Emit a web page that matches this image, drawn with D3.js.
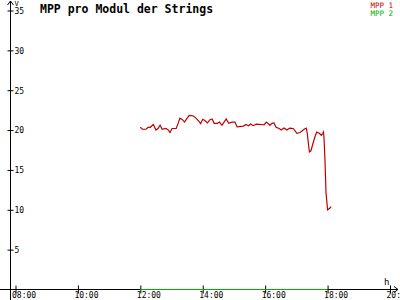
<!DOCTYPE html>
<html><head><meta charset="utf-8">
<script src="https://cdn.jsdelivr.net/npm/d3@7"></script>
<style>
html,body{margin:0;padding:0;background:#fff;}
svg{display:block;}
text{font-family:"DejaVu Sans Mono",monospace;}
</style></head>
<body><svg id="c" width="400" height="300"></svg>
<script>
const title = "MPP pro Modul der Strings";
const seriesNames = ["MPP 1", "MPP 2"];
const seriesColors = ["#c00000", "#00b000"];
const yTicks = [5, 10, 15, 20, 25, 30, 35];
const xTickLabels = ["08:00", "10:00", "12:00", "14:00", "16:00", "18:00", "20:00"];
const mpp1Times = ["12:00","12:04","12:11","12:15","12:19","12:25","12:30","12:34","12:38","12:42","12:49","12:54","12:57","13:01","13:09","13:13","13:16","13:21","13:25","13:29","13:34","13:41","13:47","13:53","13:56","14:00","14:04","14:09","14:14","14:18","14:22","14:28","14:32","14:37","14:45","14:50","14:56","15:02","15:06","15:18","15:23","15:28","15:32","15:37","15:43","15:53","15:58","16:02","16:06","16:09","16:13","16:17","16:21","16:27","16:31","16:36","16:42","16:47","16:54","17:01","17:07","17:15","17:19","17:21","17:23","17:25","17:28","17:32","17:35","17:39","17:44","17:48","17:51","17:52","17:53","17:55","17:57","18:00","18:04","18:07"];
const mpp1Values = [20.35,20.1,20.1,20.35,20.35,20.7,20.0,20.2,20.6,20.1,20.2,20.0,19.7,20.2,20.2,20.9,21.5,21.3,21.0,21.4,21.85,21.8,21.5,21.05,20.8,21.35,21.2,20.9,21.3,21.4,20.85,20.85,21.0,20.6,21.4,20.85,21.0,21.0,20.4,20.5,20.7,20.55,20.75,20.55,20.75,20.7,20.65,21.0,20.8,20.6,20.85,20.9,20.35,20.2,20.0,20.25,20.0,20.25,20.2,19.6,19.7,20.1,20.25,19.6,18.35,17.25,17.4,18.35,19.0,19.75,19.6,19.35,19.6,19.75,19.2,16.25,12.1,10.0,10.2,10.4];
const mpp2Times = ["12:00","18:00"];
const mpp2Values = [0, 0];

const parse = s => { const [h,m] = s.split(":").map(Number); return new Date(2020,0,1,h,m); };
const svg = d3.select("#c");
const x = d3.scaleTime().domain([parse("08:00"), parse("20:00")]).range([15.5, 390]);
const y = d3.scaleLinear().domain([0, 35]).range([289.5, 10.5]);
const ax0 = 10.5;

// axes lines
svg.append("line").attr("x1", ax0).attr("x2", ax0).attr("y1", 1).attr("y2", 300).attr("stroke", "#000");
svg.append("line").attr("x1", 0).attr("x2", 398).attr("y1", y(0)).attr("y2", y(0)).attr("stroke", "#000");
// arrows
svg.append("path").attr("d", `M${ax0-3},5 L${ax0},1 L${ax0+3},5`).attr("fill","none").attr("stroke","#000");
svg.append("path").attr("d", `M394,${y(0)-3} L398,${y(0)} L394,${y(0)+3}`).attr("fill","none").attr("stroke","#000");

// y ticks
const yAxis = d3.axisLeft(y).tickValues(yTicks).tickSize(0).tickFormat(d3.format("d"));
const gy = svg.append("g").attr("transform", `translate(${ax0},0)`).call(yAxis);
gy.select(".domain").remove();
gy.selectAll(".tick line").attr("x1", -3).attr("x2", 3).attr("stroke", "#000");
gy.selectAll(".tick text").attr("x", 4).attr("text-anchor", "start").attr("dy", "0.35em")
  .attr("font-size", 8).attr("font-family", "DejaVu Sans Mono").attr("fill", "#000");

// x ticks
const xAxis = d3.axisBottom(x).tickValues(xTickLabels.map(parse)).tickSize(0).tickFormat((d,i) => xTickLabels[i]);
const gx = svg.append("g").attr("transform", `translate(0,${y(0)})`).call(xAxis);
gx.select(".domain").remove();
gx.selectAll(".tick line").attr("y1", -4).attr("y2", 4).attr("stroke", "#000");
gx.selectAll(".tick text").attr("y", 3).attr("dy", "0.71em").attr("x", -4).attr("text-anchor", "start")
  .attr("font-size", 8).attr("font-family", "DejaVu Sans Mono").attr("fill", "#000");

// unit labels
svg.append("text").attr("x", 14.5).attr("y", 6).attr("font-size", 7).text("V");
svg.append("text").attr("x", 384).attr("y", 285).attr("font-size", 9).text("h");

// title
svg.append("text").attr("x", 40).attr("y", 13).attr("font-size", 11.5).attr("font-weight", "bold").text(title);

// legend
seriesNames.forEach((n,i) => {
  svg.append("text").attr("x", 393).attr("y", 8 + i*8).attr("text-anchor", "end")
    .attr("font-size", 7.5).attr("fill", seriesColors[i]).text(n);
});

const line = d3.line().x(d => x(d[0])).y(d => y(d[1]));
const d2 = mpp2Times.map((t,i) => [parse(t), mpp2Values[i]]);
svg.append("path").datum(d2).attr("d", line).attr("fill","none").attr("stroke", seriesColors[1]).attr("stroke-width", 1.2);
const d1 = mpp1Times.map((t,i) => [parse(t), mpp1Values[i]]);
svg.append("path").datum(d1).attr("d", line).attr("fill","none").attr("stroke", seriesColors[0]).attr("stroke-width", 1.2);
</script></body></html>
